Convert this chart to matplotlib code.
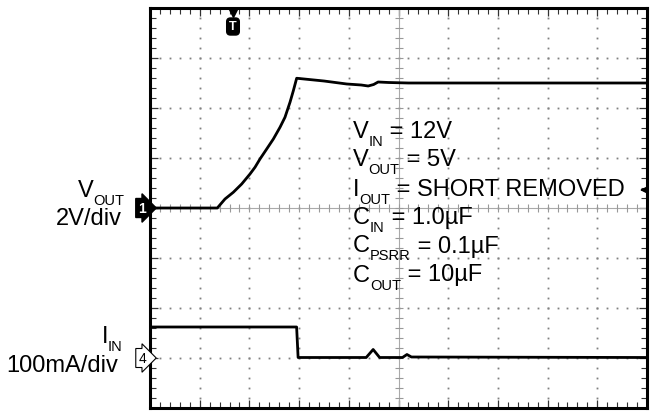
import numpy as np
import matplotlib
matplotlib.use('Agg')
import matplotlib.pyplot as plt
import matplotlib.transforms as mtransforms
from matplotlib.ticker import MultipleLocator

plt.rcParams['font.family'] = ['Liberation Sans', 'DejaVu Sans']


# time in scope divisions (10 across), no timebase printed on the shot
vout_t = [0.0, 1.354, 1.509, 1.677, 1.845, 2.012, 2.113, 2.213, 2.348, 2.482, 2.616, 2.716,
          2.817, 2.884, 2.951, 3.5, 3.96, 4.25, 4.39, 4.5, 4.59, 4.8, 5.2, 10.0]
vout_v = [0.0, 0.0, 0.36, 0.63, 0.96, 1.36, 1.63, 1.96, 2.36, 2.76, 3.23, 3.63,
          4.23, 4.69, 5.19, 5.08, 4.96, 4.92, 4.88, 4.94, 5.04, 5.02, 5.0, 5.0]

iin_t = [0.0, 2.95, 2.98, 4.35, 4.49, 4.62, 5.08, 5.17, 5.26, 10.0]
iin_ma = [62, 62, 1, 1, 17, 1, 1, 7, 2, 1]

V_DIV = 2.0      # V/div
I_DIV = 100.0    # mA/div
CH1_POS = 4.0    # ground of ch1, divisions from bottom
CH4_POS = 1.0
TRIG_X = 1.67
TRIG_LEVEL = 4.36

# (main, subscript, rest)
notes = [('V', 'IN', ' = 12V'),
         ('V', 'OUT', ' = 5V'),
         ('I', 'OUT', ' = SHORT REMOVED'),
         ('C', 'IN', ' = 1.0µF'),
         ('C', 'PSRR', ' = 0.1µF'),
         ('C', 'OUT', ' = 10µF')]
note_y = [5.42, 4.85, 4.27, 3.70, 3.13, 2.55]

FS = 17
FS_SUB = 10.5


fig = plt.figure(figsize=(6.52, 4.14), dpi=100)
ax = fig.add_axes([150 / 652, 5 / 414, 497 / 652, 400 / 414])
ax.set_xlim(0, 10)
ax.set_ylim(0, 8)
renderer = fig.canvas.get_renderer()


def sub_text(x, y, parts, ha='left'):
    # parts: list of (string, is_sub); draws a line with real subscripts
    widths = []
    for s, is_sub in parts:
        t = ax.text(0, 0, s, fontsize=FS_SUB if is_sub else FS)
        widths.append(t.get_window_extent(renderer).width)
        t.remove()
    dx = -sum(widths) if ha == 'right' else 0.0
    for (s, is_sub), w in zip(parts, widths):
        tr = mtransforms.offset_copy(ax.transData, fig=fig, x=dx,
                                     y=-8 if is_sub else 0, units='dots')
        ax.text(x, y, s, fontsize=FS_SUB if is_sub else FS, transform=tr,
                ha='left', va='baseline', clip_on=False)
        dx += w


# scope graticule
ys = np.arange(0, 8.01, 0.2)
xs = np.arange(0, 10.01, 0.2)
for k in range(1, 10):
    if k != 5:
        ax.plot([k] * len(ys), ys, ls='none', marker='s', ms=1.3, color='#808080', mew=0)
for k in range(1, 8):
    if k != 4:
        ax.plot(xs, [k] * len(xs), ls='none', marker='s', ms=1.3, color='#808080', mew=0)
ax.axhline(4, color='#aaaaaa', lw=0.8)
ax.axvline(5, color='#aaaaaa', lw=0.8)
ax.plot(xs, [4] * len(xs), ls='none', marker='|', ms=6, color='#999999', mew=0.8)
ax.plot([5] * len(ys), ys, ls='none', marker='_', ms=6, color='#999999', mew=0.8)

ax.xaxis.set_major_locator(MultipleLocator(1))
ax.yaxis.set_major_locator(MultipleLocator(1))
ax.xaxis.set_minor_locator(MultipleLocator(0.2))
ax.yaxis.set_minor_locator(MultipleLocator(0.2))
ax.tick_params(which='both', direction='in', top=True, right=True,
               labelbottom=False, labelleft=False, color='#333333')
ax.tick_params(which='major', length=6, width=0.9)
ax.tick_params(which='minor', length=4, width=0.8)
for s in ax.spines.values():
    s.set_linewidth(2.2)

# traces
ax.plot(vout_t, CH1_POS + np.array(vout_v) / V_DIV, color='black', lw=2.0)
ax.plot(iin_t, CH4_POS + np.array(iin_ma) / I_DIV, color='black', lw=2.0)

# channel markers
ax.text(-0.08, CH1_POS, '1', ha='right', va='center', color='white', fontsize=10,
        fontweight='bold', clip_on=False,
        bbox=dict(boxstyle='rarrow,pad=0.18', fc='black', ec='black'))
ax.text(-0.08, CH4_POS, '4', ha='right', va='center', color='black', fontsize=10,
        clip_on=False,
        bbox=dict(boxstyle='rarrow,pad=0.18', fc='white', ec='black', lw=0.8))

# trigger markers
ax.plot(TRIG_X, 7.9, marker='v', ms=6, color='black', zorder=5)
ax.text(TRIG_X, 7.63, 'T', ha='center', va='center', color='white', fontsize=9,
        fontweight='bold', zorder=5,
        bbox=dict(boxstyle='round,pad=0.2,rounding_size=0.3', fc='black', ec='black'))
ax.annotate('', xy=(9.8, TRIG_LEVEL), xytext=(10, TRIG_LEVEL),
            arrowprops=dict(arrowstyle='-|>', color='black', lw=1, mutation_scale=10))

# channel labels
sub_text(-0.52, 4.24, [('V', False), ('OUT', True)], ha='right')
ax.text(-0.56, 3.68, '2V/div', ha='right', va='baseline', fontsize=FS, clip_on=False)
sub_text(-0.55, 1.32, [('I', False), ('IN', True)], ha='right')
ax.text(-0.64, 0.74, '100mA/div', ha='right', va='baseline', fontsize=FS, clip_on=False)

# test conditions
for (m, sb, rest), y in zip(notes, note_y):
    sub_text(4.08, y, [(m, False), (sb, True), (rest, False)])

fig.savefig('out.png', dpi=100)
